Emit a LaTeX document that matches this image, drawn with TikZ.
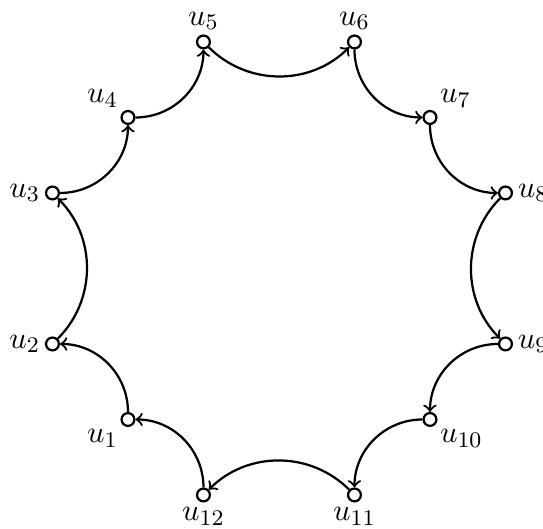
\documentclass[tikz,border=0pt]{standalone}
\begin{document}
\begin{tikzpicture}[x=0.95cm,y=0.95cm,
  vert/.style={circle,draw,thick,fill=white,inner sep=0pt,minimum size=4.6pt},
  arr/.style={->,thick},
  every label/.style={inner sep=1.5pt,font=\fontsize{10.95}{13}\selectfont}]
\useasboundingbox (-3.695,-3.450) rectangle (3.497,3.556);
\node[vert,label=below left:{$u_1$}] (u1) at (-2,-2) {};
\node[vert,label=left:{$u_2$}] (u2) at (-3,-1) {};
\node[vert,label=left:{$u_3$}] (u3) at (-3,1) {};
\node[vert,label=above left:{$u_4$}] (u4) at (-2,2) {};
\node[vert,label=above:{$u_5$}] (u5) at (-1,3) {};
\node[vert,label=above:{$u_6$}] (u6) at (1,3) {};
\node[vert,label=above right:{$u_7$}] (u7) at (2,2) {};
\node[vert,label=right:{$u_8$}] (u8) at (3,1) {};
\node[vert,label=right:{$u_9$}] (u9) at (3,-1) {};
\node[vert,label=below right:{$u_{10}$}] (u10) at (2,-2) {};
\node[vert,label=below:{$u_{11}$}] (u11) at (1,-3) {};
\node[vert,label=below:{$u_{12}$}] (u12) at (-1,-3) {};
\draw[arr] (u1) to[out=90,in=0] (u2);
\draw[arr] (u2) to[bend right=45] (u3);
\draw[arr] (u3) to[out=0,in=-90] (u4);
\draw[arr] (u4) to[out=0,in=-90] (u5);
\draw[arr] (u5) to[bend right=45] (u6);
\draw[arr] (u6) to[out=-90,in=180] (u7);
\draw[arr] (u7) to[out=-90,in=180] (u8);
\draw[arr] (u8) to[bend right=45] (u9);
\draw[arr] (u9) to[out=180,in=90] (u10);
\draw[arr] (u10) to[out=180,in=90] (u11);
\draw[arr] (u11) to[bend right=45] (u12);
\draw[arr] (u12) to[out=90,in=0] (u1);
\end{tikzpicture}
\end{document}
